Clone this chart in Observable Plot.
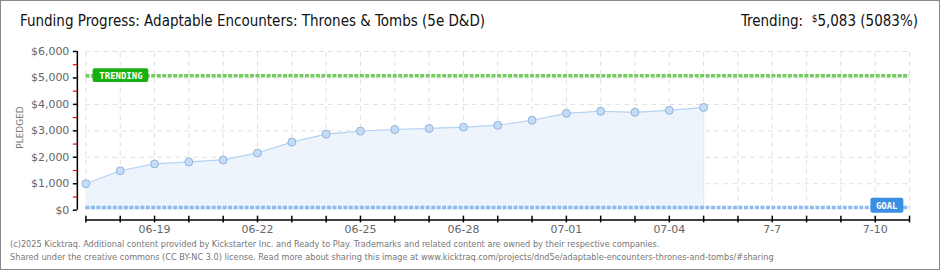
<!DOCTYPE html>
<html>
<head>
<meta charset="utf-8">
<script src="https://cdn.jsdelivr.net/npm/d3@7"></script>
<script src="https://cdn.jsdelivr.net/npm/@observablehq/plot@0.6"></script>
<style>
  html, body { margin: 0; padding: 0; background: #fff; }
  #wrap { position: relative; width: 940px; height: 270px; box-sizing: border-box; border: 1px solid #888; overflow: hidden; background: #fff; }
  #title { position: absolute; left: 19px; top: 11px; font-family: "DejaVu Sans Condensed", "DejaVu Sans", sans-serif; font-size: 15px; color: #111; white-space: nowrap; }
  #trend { position: absolute; right: 21px; top: 11px; font-family: "DejaVu Sans Condensed", "DejaVu Sans", sans-serif; font-size: 15px; color: #111; white-space: nowrap; }
  #trend sup { font-size: 10px; vertical-align: 4px; }
  #chart { position: absolute; left: -1px; top: 39px; }
  #foot { position: absolute; left: 9px; top: 237px; font-family: "DejaVu Sans Condensed", "DejaVu Sans", sans-serif; font-size: 9.1px; line-height: 12.5px; color: #777; white-space: nowrap; }
</style>
</head>
<body>
<div id="wrap">
  <div id="title"></div>
  <div id="trend"></div>
  <div id="chart"></div>
  <div id="foot"></div>
</div>
<script>
// ---- data ----
const titleText = "Funding Progress: Adaptable Encounters: Thrones & Tombs (5e D&D)";
const trendingValue = 5083;
const trendingPct = "5083%";
const goalValue = 100;
const dates = ["2025-06-17","2025-06-18","2025-06-19","2025-06-20","2025-06-21","2025-06-22","2025-06-23","2025-06-24","2025-06-25","2025-06-26","2025-06-27","2025-06-28","2025-06-29","2025-06-30","2025-07-01","2025-07-02","2025-07-03","2025-07-04","2025-07-05"];
const pledged = [1000,1490,1750,1825,1900,2160,2575,2875,2990,3050,3090,3140,3210,3400,3660,3740,3700,3775,3885];
const campaignDays = ["2025-06-17","2025-06-18","2025-06-19","2025-06-20","2025-06-21","2025-06-22","2025-06-23","2025-06-24","2025-06-25","2025-06-26","2025-06-27","2025-06-28","2025-06-29","2025-06-30","2025-07-01","2025-07-02","2025-07-03","2025-07-04","2025-07-05","2025-07-06","2025-07-07","2025-07-08","2025-07-09","2025-07-10","2025-07-11"];
const xTickDates = ["2025-06-19","2025-06-22","2025-06-25","2025-06-28","2025-07-01","2025-07-04","2025-07-07","2025-07-10"];
const xTickLabels = ["06-19","06-22","06-25","06-28","07-01","07-04","7-7","7-10"];
const yMajorTicks = [0,1000,2000,3000,4000,5000,6000];
const yMinorTicks = [500,1500,2500,3500,4500,5500];
const footerLines = [
  "(c)2025 Kicktraq. Additional content provided by Kickstarter Inc. and Ready to Play. Trademarks and related content are owned by their respective companies.",
  "Shared under the creative commons (CC BY-NC 3.0) license. Read more about sharing this image at www.kicktraq.com/projects/dnd5e/adaptable-encounters-thrones-and-tombs/#sharing"
];

// ---- build ----
const D = s => new Date(s + "T00:00:00Z");
const data = dates.map((d, i) => ({date: D(d), value: pledged[i]}));
const days = campaignDays.map(D);
const first = days[0], last = days[days.length - 1];
const HOUR = 3600e3;
const xStart = new Date(+first - 6 * HOUR);
const labels = xTickDates.map((d, i) => ({date: D(d), label: xTickLabels[i]}));
const fmt = d3.format(",");

document.getElementById("title").textContent = titleText;
document.getElementById("trend").innerHTML = "Trending:&nbsp; <sup>$</sup>" + fmt(trendingValue) + " (" + trendingPct + ")";
document.getElementById("foot").innerHTML = footerLines.map(l => l.replace(/&/g,"&amp;")).join("<br>");

const font = "DejaVu Sans, sans-serif";
const chart = Plot.plot({
  width: 941,
  height: 196,
  marginLeft: 77,
  marginRight: 30,
  marginTop: 11,
  marginBottom: 16,
  style: {fontFamily: font, fontSize: "11px", color: "#666", background: "transparent", overflow: "visible"},
  x: {type: "utc", domain: [xStart, last], axis: null, label: null},
  y: {domain: [-375, 6000], axis: null, label: null},
  marks: [
    // grid
    Plot.ruleX(days, {x: d => d, y1: 0, y2: 6000, stroke: "#e0e0e0", strokeDasharray: "5,4"}),
    Plot.ruleY(yMajorTicks.slice(1), {y: d => d, x1: first, x2: last, stroke: "#e0e0e0", strokeDasharray: "5,4"}),
    // area + line + dots
    Plot.areaY(data, {x: "date", y: "value", fill: "#edf4fc"}),
    Plot.lineY(data, {x: "date", y: "value", stroke: "#b5d3f3", strokeWidth: 1.2}),
    Plot.ruleX([data[data.length-1]], {x: "date", y1: 0, y2: "value", stroke: "#dde9f7"}),
    // goal & trending lines
    Plot.ruleY([goalValue], {x1: first, x2: last, stroke: "#8dbbec", strokeWidth: 3.5, strokeDasharray: "4,1.5"}),
    Plot.ruleY([trendingValue], {x1: first, x2: last, stroke: "#74cc60", strokeWidth: 3.5, strokeDasharray: "4,1.5"}),
    Plot.dot(data, {x: "date", y: "value", r: 4, fill: "#c3dcf7", stroke: "#93b3d8", strokeWidth: 1}),
    // y axis
    Plot.ruleX([xStart], {y1: 0, y2: 6000, stroke: "#000", strokeWidth: 1.5}),
    Plot.axisY({ticks: yMajorTicks, label: null, tickSize: 4, tickPadding: 4, tickFormat: d => "$" + fmt(d), stroke: "#000", strokeWidth: 1.5, fill: "#666", fontSize: 11}),
    Plot.axisY({ticks: yMinorTicks, label: null, tickSize: 4, tickFormat: () => "", stroke: "#e00", strokeWidth: 1.2}),
    // x axis
    Plot.ruleY([-375], {x1: first, x2: last, stroke: "#000", strokeWidth: 1.5}),
    Plot.ruleX(days, {x: d => d, y1: -225, y2: -480, stroke: "#000", strokeWidth: 1.5}),
    Plot.text(labels, {x: "date", y: -375, text: "label", dy: 9, fill: "#666", fontSize: 11}),
    // labels
    Plot.rect([trendingValue], {x1: new Date(+first + 5 * HOUR), x2: new Date(+first + 44 * HOUR), y1: d => d - 260, y2: d => d + 260, fill: "#16b010", rx: 2}),
    Plot.text([trendingValue], {x: new Date(+first + 24.5 * HOUR), y: d => d, text: () => "TRENDING", fill: "#fff", fontWeight: "bold", fontSize: 9, fontFamily: "DejaVu Sans Mono, monospace"}),
    Plot.rect([goalValue], {x1: new Date(+days[22] + 21 * HOUR), x2: new Date(+days[23] + 20 * HOUR), y1: d => d - 212, y2: d => d + 350, fill: "#3a8fe2", rx: 2}),
    Plot.text([goalValue], {x: new Date(+days[23] + 8 * HOUR), y: d => d + 69, text: () => "GOAL", fill: "#fff", fontWeight: "bold", fontSize: 9, fontFamily: "DejaVu Sans Mono, monospace"}),
    // y label
    Plot.text(["PLEDGED"], {frameAnchor: "left", dx: -57, dy: 13, rotate: -90, text: d => d, fill: "#777", fontSize: 9, letterSpacing: "1.8px"})
  ]
});
document.getElementById("chart").appendChild(chart);
</script>
</body>
</html>
